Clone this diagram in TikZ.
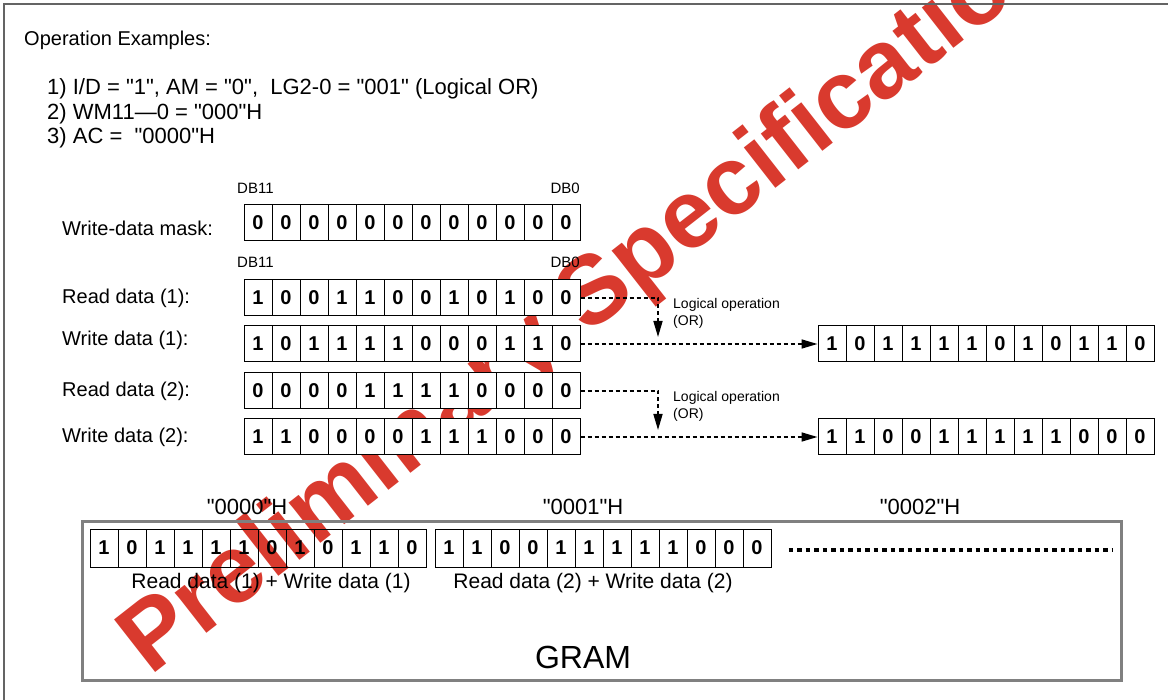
\documentclass[tikz,border=0pt]{standalone}
\usepackage{fontspec}
\defaultfontfeatures[\rmfamily]{}
\setmainfont{Liberation Sans}
\usepackage{tikz}
\usetikzlibrary{arrows.meta, positioning}

\definecolor{stampred}{RGB}{217,58,46}
\definecolor{framegray}{RGB}{128,128,128}
\definecolor{edgegray}{RGB}{100,100,100}

\begin{document}
\begin{tikzpicture}[
    x=1pt, y=-1pt,
    bit cell/.style={rectangle,draw,fill=white,line width=1pt,minimum width=28pt,minimum height=36pt,inner sep=0pt,font=\fontsize{20}{24}\selectfont\bfseries},
    gram cell/.style={bit cell,fill=none,minimum height=38pt},
    label text/.style={anchor=west,inner sep=0pt,font=\fontsize{20}{24}\selectfont},
    cond text/.style={anchor=west,inner sep=0pt,font=\fontsize{22}{26}\selectfont},
    db text/.style={inner sep=0pt,font=\fontsize{15}{18}\selectfont},
    op text/.style={anchor=west,align=left,inner sep=0pt,font=\fontsize{14}{17}\selectfont},
    hex text/.style={inner sep=0pt,font=\fontsize{22}{26}\selectfont},
    flow arrow/.style={line width=1.6pt,dash pattern=on 4pt off 3pt,-{Triangle[length=16pt,width=9pt]}},
    dots line/.style={line width=4.5pt,dash pattern=on 4.5pt off 4pt},
    stamp/.style={anchor=base west,rotate=38,inner sep=0pt,text=stampred,font=\fontsize{97}{100}\selectfont\bfseries}
]
\useasboundingbox (0,0) rectangle (1168,700);

\node[stamp] (stamp) at (150,677) {Preliminary Specification};

\draw[edgegray,line width=1.5pt] (4,700) -- (4,4) -- (1168,4);

\node[label text] (title) at (24,40) {Operation Examples:};
\node[cond text] (condA) at (47,89) {1) I/D = "1", AM = "0", \ LG2-0 = "001" (Logical OR)};
\node[cond text] (condB) at (47,114) {2) WM11—0 = "000"H};
\node[cond text] (condC) at (47,138) {3) AC = \ "0000"H};

\node[db text,anchor=west] (dbhiA) at (237,188) {DB11};
\node[db text,anchor=east] (dbloA) at (580,188) {DB0};
\node[db text,anchor=west] (dbhiB) at (237,262) {DB11};
\node[db text,anchor=east] (dbloB) at (580,262) {DB0};

\node[label text] (maskname) at (62,228) {Write-data mask:};
\node[label text] (readAname) at (62,298) {Read data (1):};
\node[label text] (writeAname) at (62,340) {Write data (1):};
\node[label text] (readBname) at (62,391) {Read data (2):};
\node[label text] (writeBname) at (62,437) {Write data (2):};

\foreach \b [count=\i] in {0,0,0,0,0,0,0,0,0,0,0,0}
    \node[bit cell] (mask-\i) at ({230+28*\i},223) {\b};
\foreach \b [count=\i] in {1,0,0,1,1,0,0,1,0,1,0,0}
    \node[bit cell] (readA-\i) at ({230+28*\i},298) {\b};
\foreach \b [count=\i] in {1,0,1,1,1,1,0,0,0,1,1,0}
    \node[bit cell] (writeA-\i) at ({230+28*\i},344) {\b};
\foreach \b [count=\i] in {0,0,0,0,1,1,1,1,0,0,0,0}
    \node[bit cell] (readB-\i) at ({230+28*\i},391) {\b};
\foreach \b [count=\i] in {1,1,0,0,0,0,1,1,1,0,0,0}
    \node[bit cell] (writeB-\i) at ({230+28*\i},437) {\b};
\foreach \b [count=\i] in {1,0,1,1,1,1,0,1,0,1,1,0}
    \node[bit cell] (outA-\i) at ({804+28*\i},344) {\b};
\foreach \b [count=\i] in {1,1,0,0,1,1,1,1,1,0,0,0}
    \node[bit cell] (outB-\i) at ({804+28*\i},437) {\b};

\coordinate (opA) at (658,337);
\coordinate (opB) at (658,430);
\draw[flow arrow] (readA-12.east) -| (opA);
\draw[flow arrow] (writeA-12.east) -- (outA-1.west);
\draw[flow arrow] (readB-12.east) -| (opB);
\draw[flow arrow] (writeB-12.east) -- (outB-1.west);
\node[op text] (opAtext) at (673,313) {Logical operation\\(OR)};
\node[op text] (opBtext) at (673,406) {Logical operation\\(OR)};

\node[draw=framegray,line width=3pt,minimum width=1039pt,minimum height=159pt,inner sep=0pt] (gram) at (601.5,600.5) {};
\node[inner sep=0pt,font=\fontsize{32}{36}\selectfont] (gramname) at (583,657) {GRAM};
\node[hex text] (addrA) at (247,507) {"0000"H};
\node[hex text] (addrB) at (583,507) {"0001"H};
\node[hex text] (addrC) at (920,507) {"0002"H};

\foreach \b [count=\i] in {1,0,1,1,1,1,0,1,0,1,1,0}
    \node[gram cell] (gramA-\i) at ({76+28*\i},548) {\b};
\foreach \b [count=\i] in {1,1,0,0,1,1,1,1,1,0,0,0}
    \node[gram cell] (gramB-\i) at ({421+28*\i},548) {\b};
\coordinate (dotsend) at (1113,550);
\draw[dots line] ([xshift=17pt,yshift=-2pt]gramB-12.east) -- (dotsend);

\node[label text,anchor=center,font=\fontsize{21}{25}\selectfont] (sumA) at (271,583) {Read data (1) + Write data (1)};
\node[label text,anchor=center,font=\fontsize{21}{25}\selectfont] (sumB) at (593,583) {Read data (2) + Write data (2)};
\end{tikzpicture}
\end{document}
